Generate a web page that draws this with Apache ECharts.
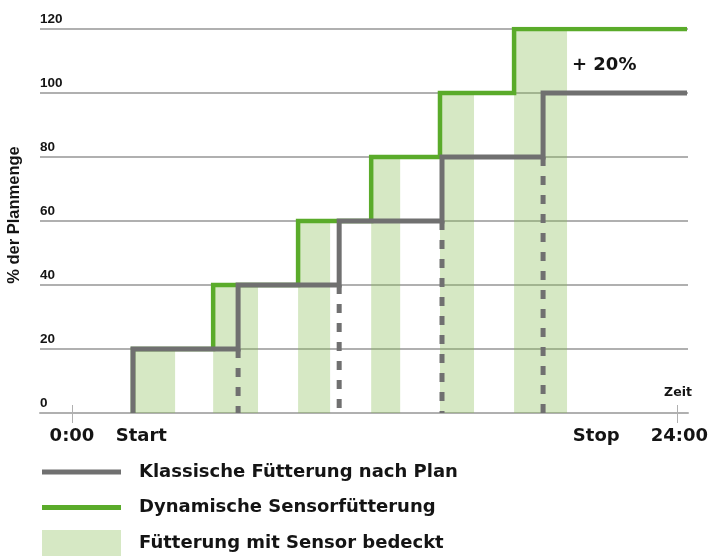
<!DOCTYPE html>
<html>
<head>
<meta charset="utf-8">
<script src="https://cdn.jsdelivr.net/npm/echarts@6/dist/echarts.min.js"></script>
<style>
html,body{margin:0;padding:0;background:#fff;}
#c{width:711px;height:556px;}
</style>
</head>
<body>
<div id="c"></div>
<script>
// ---- data (x in hours, y in % der Planmenge) ----
const yTicks = [0, 20, 40, 60, 80, 100, 120];
const xTickValues = [0, 24];
const xLabelValues = [0, 2.75, 20.8, 24.1];
const xLabelTexts = ['0:00', 'Start', 'Stop', '24:00'];
const xMin = -1.27, xMax = 24.44;

// Klassische Fütterung nach Plan: step times and levels reached
const planStepX = [2.42, 6.59, 10.6, 14.68, 18.69];
const planLevels = [20, 40, 60, 80, 100];
// Dynamische Sensorfütterung
const sensorStepX = [2.42, 5.6, 8.97, 11.87, 14.6, 17.54];
const sensorLevels = [20, 40, 60, 80, 100, 120];
const lineEndX = 24.4;
// Fütterung mit Sensor bedeckt (bar spans)
const coverStart = [2.42, 5.6, 8.97, 11.87, 14.6, 17.54];
const coverEnd = [4.09, 7.38, 10.24, 13.02, 15.95, 19.64];
const coverLevel = [20, 40, 60, 80, 100, 120];

const names = ['Klassische Fütterung nach Plan', 'Dynamische Sensorfütterung', 'Fütterung mit Sensor bedeckt'];
const annotation = '+ 20%';

// build step series (step: 'start' -> vertical first, then horizontal)
function stepData(xs, levels) {
  const d = [];
  for (let i = 0; i < xs.length; i++) {
    d.push([xs[i], i === 0 ? 0 : levels[i - 1]]);
  }
  d.push([lineEndX, levels[levels.length - 1]]);
  return d;
}
const planData = stepData(planStepX, planLevels);
const sensorData = stepData(sensorStepX, sensorLevels);
const coverData = coverStart.map((s, i) => [s, coverEnd[i], coverLevel[i]]);
// dashed drop lines below each plan step (after the first)
const dropData = planStepX.slice(1).map((x, i) => [x, planLevels[i]]);

const GRAY = '#707070';
const GREEN = '#5aab2a';
const FILL = 'rgba(138,189,86,0.35)';
const GRID = '#b0b0b0';
const TXT = '#141414';
const FONT = '"DejaVu Sans", sans-serif';
const AFONT = '"Liberation Sans", Arial, sans-serif';
const BAR_ICON = 'path://M0 0H79V5H0Z';

const chart = echarts.init(document.getElementById('c'));
chart.setOption({
  animation: false,
  backgroundColor: '#fff',
  grid: { left: 40, right: 23, top: 29, bottom: 143, containLabel: false, outerBoundsMode: 'none' },
  xAxis: [{
    type: 'value', min: xMin, max: xMax, position: 'bottom',
    name: 'Zeit', nameLocation: 'end', nameGap: -10,
    nameTextStyle: { fontFamily: FONT, fontWeight: 'bold', fontSize: 12.5, color: TXT, align: 'center', verticalAlign: 'bottom', padding: [0, 0, 14, 0] },
    axisLine: { show: true, lineStyle: { color: GRID, width: 2 } },
    splitLine: { show: false },
    axisTick: { show: true, customValues: xTickValues, length: 10, lineStyle: { color: GRID, width: 1 } },
    axisLabel: {
      customValues: xLabelValues, margin: 14,
      fontFamily: FONT, fontWeight: 'bold', fontSize: 18, color: TXT,
      formatter: v => { const i = xLabelValues.indexOf(v); return i >= 0 ? xLabelTexts[i] : ''; }
    }
  }, {
    type: 'value', min: xMin, max: xMax, position: 'bottom',
    axisLine: { show: false }, splitLine: { show: false },
    axisLabel: { show: false },
    axisTick: { show: true, inside: true, customValues: xTickValues, length: 8, lineStyle: { color: GRID, width: 1 } }
  }],
  yAxis: {
    type: 'value', min: 0, max: 120, interval: 20,
    name: '% der Planmenge', nameLocation: 'middle', nameRotate: 90, nameGap: 17,
    nameTextStyle: { fontFamily: AFONT, fontWeight: 'bold', fontSize: 16.5, color: TXT, padding: [0, 0, 0, 12] },
    axisLine: { show: false }, axisTick: { show: false },
    splitLine: { show: true, lineStyle: { color: GRID, width: 2 } },
    axisLabel: {
      inside: true, margin: 0, align: 'left', verticalAlign: 'bottom', padding: [0, 0, 3, 0],
      fontFamily: AFONT, fontWeight: 'bold', fontSize: 13.5, color: TXT,
      showMinLabel: true, showMaxLabel: true
    }
  },
  legend: {
    orient: 'vertical', left: 42, top: 459, padding: 0,
    itemWidth: 79, itemHeight: 26, itemGap: 9.5, symbolKeepAspect: true,
    textStyle: { fontFamily: FONT, fontWeight: 'bold', fontSize: 18, lineHeight: 26, color: TXT, padding: [0, 0, 0, 13] },
    data: [
      { name: names[0], icon: BAR_ICON, itemStyle: { color: GRAY, borderWidth: 0 } },
      { name: names[1], icon: BAR_ICON, itemStyle: { color: GREEN, borderWidth: 0 } },
      { name: names[2], icon: 'rect', itemStyle: { color: FILL, borderWidth: 0 } }
    ],
    selectedMode: false
  },
  graphic: [{
    type: 'text', x: 572, y: 65,
    style: { text: annotation, fontFamily: FONT, fontWeight: 'bold', fontSize: 18, fill: TXT, verticalAlign: 'middle' }
  }],
  series: [{
    name: names[2], type: 'custom', z: 1,
    itemStyle: { color: FILL },
    data: coverData,
    renderItem: (params, api) => {
      const p0 = api.coord([api.value(0), api.value(2)]);
      const p1 = api.coord([api.value(1), 0]);
      return { type: 'rect', shape: { x: p0[0], y: p0[1], width: p1[0] - p0[0], height: p1[1] - p0[1] }, style: { fill: FILL } };
    },
    encode: { x: [0, 1], y: 2 }
  }, {
    name: names[1], type: 'line', step: 'start', z: 3,
    data: sensorData, symbol: 'none', color: GREEN,
    lineStyle: { color: GREEN, width: 4.5, join: 'miter', cap: 'butt' }
  }, {
    name: 'drops', type: 'custom', z: 4,
    data: dropData,
    renderItem: (params, api) => {
      const a = api.coord([api.value(0), api.value(1)]);
      const b = api.coord([api.value(0), 0]);
      return { type: 'line', shape: { x1: a[0], y1: a[1], x2: b[0], y2: b[1] },
        style: { stroke: GRAY, lineWidth: 5, lineDash: [9, 10], lineCap: 'butt' } };
    },
    encode: { x: 0, y: 1 }
  }, {
    name: names[0], type: 'line', step: 'start', z: 5,
    data: planData, symbol: 'none', color: GRAY,
    lineStyle: { color: GRAY, width: 5, join: 'miter', cap: 'butt' }
  }]
});
</script>
</body>
</html>
